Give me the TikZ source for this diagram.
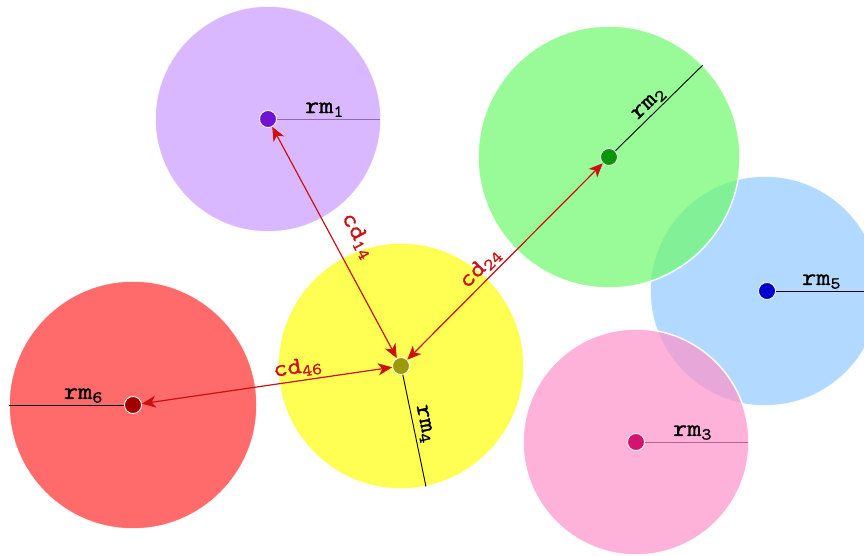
\documentclass[tikz,border=0pt]{standalone}
\usepackage{fontspec}
\setmonofont[FakeStretch=1.15,FakeBold=1.2]{Latin Modern Mono}
\usetikzlibrary{arrows.meta,calc}
\definecolor{cpurple}{RGB}{201,154,255}
\definecolor{cgreen}{RGB}{108,249,108}
\definecolor{cblue}{RGB}{146,201,255}
\definecolor{cyellow}{RGB}{255,255,10}
\definecolor{cred}{RGB}{255,44,44}
\definecolor{cpink}{RGB}{255,146,201}
\definecolor{dpurple}{RGB}{110,20,210}
\definecolor{dgreen}{RGB}{10,150,10}
\definecolor{dblue}{RGB}{0,0,205}
\definecolor{dolive}{RGB}{155,155,10}
\definecolor{dred}{RGB}{160,0,0}
\definecolor{dpink}{RGB}{210,20,110}
\definecolor{cdred}{RGB}{205,15,15}
\begin{document}
\begin{tikzpicture}[x=1pt,y=1pt,
  bigc/.style={draw=white, line width=1.5pt, fill opacity=0.7, draw opacity=0.9},
  dot/.style={circle, draw=white, line width=0.8pt, minimum size=17pt, inner sep=0pt},
  rline/.style={line width=0.9pt, black},
  cdarrow/.style={draw=cdred, line width=1.2pt,
    {Stealth[length=14pt,width=12pt,inset=4pt]}-{Stealth[length=14pt,width=12pt,inset=4pt]}},
  rlab/.style={font=\ttfamily\fontsize{24}{26}\selectfont, text=black, inner sep=2pt},
  cdlab/.style={font=\ttfamily\fontsize{24}{26}\selectfont, text=cdred, inner sep=2pt}]
\useasboundingbox (0,0) rectangle (864,556);
\clip (0,0) rectangle (864,556);
% centres
\coordinate (P) at (268,437);
\coordinate (G) at (609,399);
\coordinate (B) at (767,265);
\coordinate (Y) at (401,190);
\coordinate (R) at (133,151);
\coordinate (K) at (636,114);
% radius lines seen through the fill
\coordinate (P1) at ($(P)+(0:113pt)$);
\coordinate (K1) at ($(K)+(0:113pt)$);
\draw[rline] (P) -- (P1);
\draw[rline] (K) -- (K1);
% circles
\draw[bigc, fill=cpurple] (P) circle[radius=113pt];
\draw[bigc, fill=cblue] (765,265) circle[radius=115pt];
\draw[bigc, fill=cgreen] (G) circle[radius=131pt];
\draw[bigc, fill=cyellow] (Y) circle[radius=123pt];
\draw[bigc, fill=cred] (R) circle[radius=124pt];
\draw[bigc, fill=cpink] (K) circle[radius=113pt];
% radius lines on top
\coordinate (G1) at ($(G)+(44.4:131pt)$);
\coordinate (B1) at ($(B)+(0:116pt)$);
\coordinate (Y1) at ($(Y)+(-78.3:123pt)$);
\coordinate (R1) at ($(R)+(180:124pt)$);
\draw[rline] (G) -- node[rlab, sloped, above=0pt] {rm\textsubscript{2}} (G1);
\draw[rline] (B) -- (B1);
\draw[rline] (Y) -- node[rlab, sloped, above=1pt] {rm\textsubscript{4}} (Y1);
\draw[rline] (R) -- (R1);
% labels on horizontal radii
\node[rlab, above] (lrm1) at ($(P)!0.5!(P1)$) {rm\textsubscript{1}};
\node[rlab, above] (lrm3) at ($(K)!0.5!(K1)$) {rm\textsubscript{3}};
\node[rlab, above] (lrm5) at ($(B)!0.47!(B1)$) {rm\textsubscript{5}};
\node[rlab, above] (lrm6) at ($(R)!0.4!(R1)$) {rm\textsubscript{6}};
% centre dots
\node[dot, fill=dpurple] (p) at (P) {};
\node[dot, fill=dgreen] (g) at (G) {};
\node[dot, fill=dblue] (b) at (B) {};
\node[dot, fill=dolive] (y) at (Y) {};
\node[dot, fill=dred] (r) at (R) {};
\node[dot, fill=dpink] (k) at (K) {};
% distance arrows
\draw[cdarrow] (p) -- node[cdlab, sloped, above=12pt, pos=0.52] {cd\textsubscript{14}} (y);
\draw[cdarrow] (y) -- node[cdlab, sloped, above=1pt, pos=0.42] {cd\textsubscript{24}} (g);
\draw[cdarrow] (r) -- node[cdlab, sloped, above=1pt, pos=0.63] {cd\textsubscript{46}} (y);
\end{tikzpicture}
\end{document}
